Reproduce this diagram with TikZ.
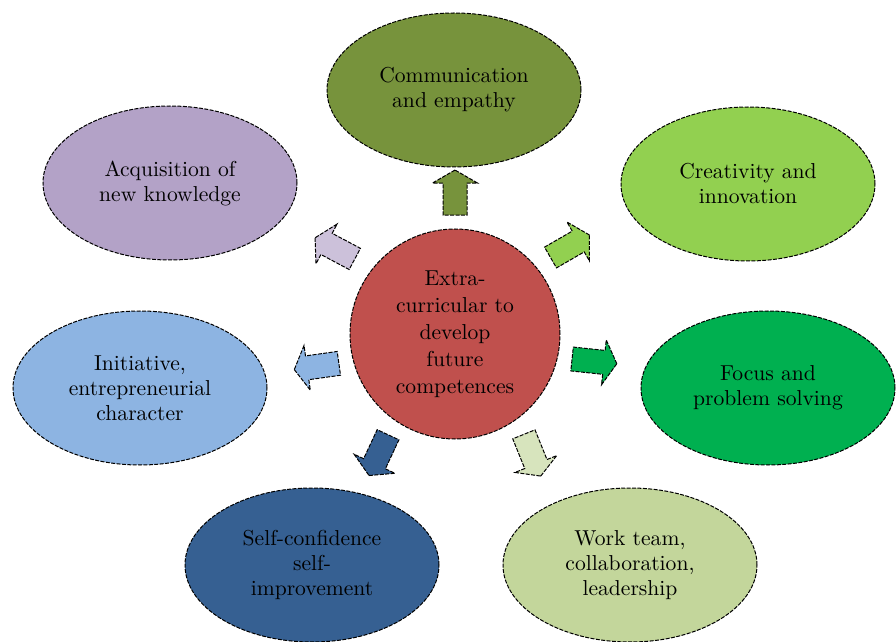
\documentclass[tikz,border=0pt]{standalone}
\usetikzlibrary{shapes.geometric,shapes.arrows}

\definecolor{commcol}{HTML}{77933C}
\definecolor{creacol}{HTML}{92D050}
\definecolor{focucol}{HTML}{00B050}
\definecolor{teamcol}{HTML}{C3D69B}
\definecolor{selfcol}{HTML}{366092}
\definecolor{initcol}{HTML}{8DB4E2}
\definecolor{acqucol}{HTML}{B3A2C7}
\definecolor{hubcol}{HTML}{C0504D}
\definecolor{teamarr}{HTML}{D7E4BD}
\definecolor{acquarr}{HTML}{CCC1DA}

\tikzset{
  outline/.style={draw=black, line width=0.5pt, dash pattern=on 2pt off 0.7pt},
  bubble/.style={outline, ellipse, inner sep=0pt, minimum width=127pt, minimum height=77pt,
    align=center, font=\fontsize{10.8pt}{12.5pt}\selectfont},
  hub/.style={outline, circle, inner sep=0pt, minimum size=105pt, fill=hubcol,
    align=center, font=\fontsize{10.8pt}{13.5pt}\selectfont},
  blockarrow/.style={outline, single arrow, inner xsep=0pt, inner ysep=5.75pt,
    minimum height=22.5pt, single arrow head extend=5.25pt, single arrow tip angle=120}
}

\begin{document}
\begin{tikzpicture}[x=0.5pt,y=-0.5pt]
\useasboundingbox (0,0) rectangle (896,642);

% centre
\draw (455,334) node [hub] (hub) {Extra-\\curricular to\\develop\\future\\competences};

% the seven competences
\draw (454,90) node [bubble, fill=commcol] (comm) {Communication\\and empathy};
\draw (748,184) node [bubble, fill=creacol] (crea) {Creativity and\\innovation};
\draw (768,388) node [bubble, fill=focucol] (focu) {Focus and\\problem solving};
\draw (630,565) node [bubble, fill=teamcol] (team) {Work team,\\collaboration,\\leadership};
\draw (312,565) node [bubble, fill=selfcol] (self) {Self-confidence\\self-\\improvement};
\draw (140,388) node [bubble, fill=initcol] (init) {Initiative,\\entrepreneurial\\character};
\draw (170,183) node [bubble, fill=acqucol] (acqu) {Acquisition of\\new knowledge};

% block arrows
\draw (455,196) node [blockarrow, fill=commcol, rotate=90] (tocomm) {};
\draw (567,248) node [blockarrow, fill=creacol, rotate=30] (tocrea) {};
\draw (591,361) node [blockarrow, fill=focucol, rotate=-6] (tofocu) {};
\draw (531,452) node [blockarrow, fill=teamarr, rotate=-68] (toteam) {};
\draw (380,452) node [blockarrow, fill=selfcol, rotate=-115] (toself) {};
\draw (320,366) node [blockarrow, fill=initcol, rotate=188] (toinit) {};
\draw (338,250) node [blockarrow, fill=acquarr, rotate=152] (toacqu) {};

\end{tikzpicture}
\end{document}
